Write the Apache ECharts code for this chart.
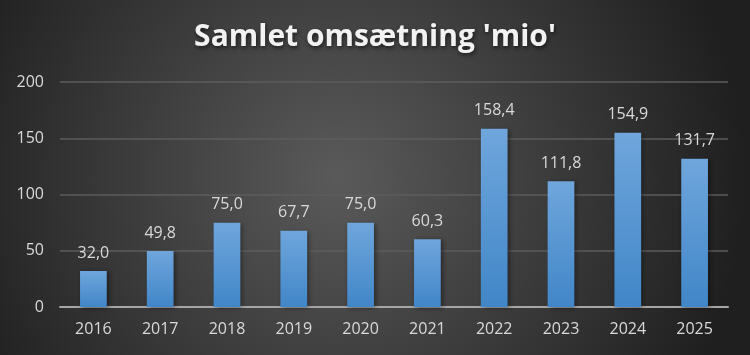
<!DOCTYPE html>
<html><head><meta charset="utf-8">
<script src="https://cdn.jsdelivr.net/npm/echarts@6/dist/echarts.min.js"></script>
<style>html,body{margin:0;padding:0;background:#333}#c{width:750px;height:355px}</style>
</head><body><div id="c"></div>
<script>
var categories = ['2016','2017','2018','2019','2020','2021','2022','2023','2024','2025'];
var values = [32.0, 49.8, 75.0, 67.7, 75.0, 60.3, 158.4, 111.8, 154.9, 131.7];
var titleText = "Samlet omsætning 'mio'";

var chart = echarts.init(document.getElementById('c'), null, {renderer:'canvas'});
chart.setOption({
  animation: false,
  backgroundColor: {type:'radial', x:0.45, y:0.5, r:1.15, colorStops:[
    {offset:0, color:'#5a5a5a'}, {offset:1, color:'#1f1f1f'}]},
  title: {text: titleText, left:'center', top:17,
    textStyle:{color:'#f2f2f2', fontFamily:'Open Sans', fontWeight:'bold', fontSize:30,
      textShadowColor:'rgba(0,0,0,0.6)', textShadowBlur:4, textShadowOffsetX:1, textShadowOffsetY:2}},
  grid: {left:60, right:22, top:82, bottom:48, containLabel:false},
  xAxis: {type:'category', data: categories,
    axisLine:{lineStyle:{color:'#a6a6a6', width:2}}, axisTick:{show:false},
    axisLabel:{color:'#d9d9d9', fontFamily:'Open Sans', fontSize:16, margin:14}},
  yAxis: {type:'value', min:0, max:200, interval:50,
    axisLine:{show:false}, axisTick:{show:false},
    splitLine:{lineStyle:{color:'#5c5c5c', width:1.5}},
    axisLabel:{color:'#d9d9d9', fontFamily:'Open Sans', fontSize:16, margin:16}},
  series: [{type:'bar', data: values, barWidth:'40%',
    itemStyle:{color:{type:'linear', x:0,y:0,x2:0,y2:1, colorStops:[
      {offset:0,color:'#6fa6dc'},{offset:1,color:'#4186c8'}]},
      shadowColor:'rgba(0,0,0,0.45)', shadowBlur:5, shadowOffsetX:2, shadowOffsetY:1},
    label:{show:true, position:'top', distance:10, color:'#d9d9d9', fontFamily:'Open Sans', fontSize:16,
      formatter:function(p){return p.value.toFixed(1).replace('.',',');}}
  }]
});
</script></body></html>
